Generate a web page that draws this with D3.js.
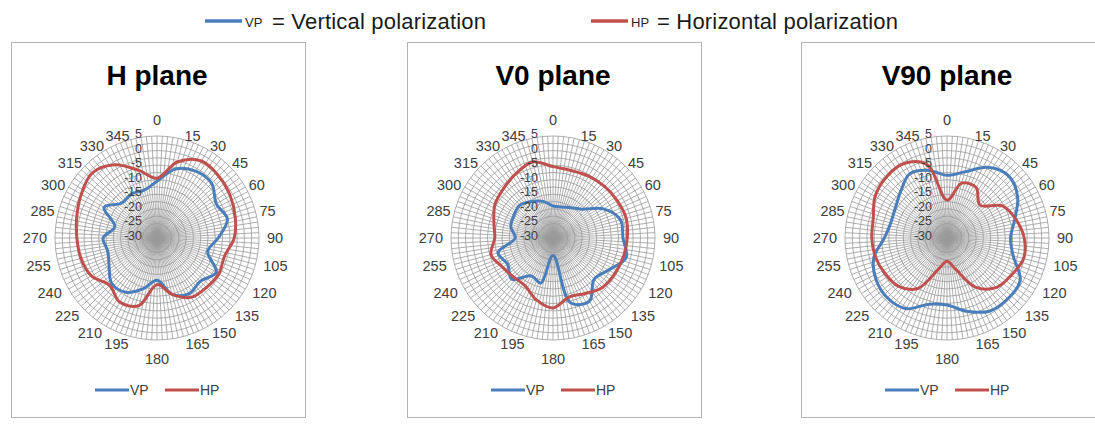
<!DOCTYPE html>
<html><head><meta charset="utf-8">
<script src="https://cdn.jsdelivr.net/npm/d3@7"></script>
<style>body{margin:0;background:#fff}svg{display:block}</style>
</head><body>
<svg id="c" width="1095" height="425"></svg>
<script>
// ---------- data ----------
const angles = [0,15,30,45,60,75,90,105,120,135,150,165,180,195,210,225,240,255,270,285,300,315,330,345];
const angleLabels = ["0","15","30","45","60","75","90","105","120","135","150","165","180","195","210","225","240","255","270","285","300","315","330","345"];
const radialTicks = [5,0,-5,-10,-15,-20,-25,-30];
const radialLabels = ["5","0","-5","-10","-15","-20","-25","-30"];
const planeTitles = ["H plane","V0 plane","V90 plane"];
const seriesNames = ["VP","HP"];
const legendTexts = ["= Vertical polarization","= Horizontal polarization"];

const hPlaneVP  = [-10.5,-5.5,-3.5,-3.5,-6.5,-5,-9,-12,-6.5,-9,-8,-10,-15.5,-12,-8.5,-8,-11,-12.5,-11.5,-15,-9,-13,-12.5,-13];
const hPlaneHP  = [-9.5,-3,0.5,0,-1,-2.2,-3.5,-6,-5.5,-6,-6.5,-10,-14,-6,-4.5,-7,-4,-3,-2.5,-1.5,0,1.5,-1,-6];
const v0PlaneVP = [-19,-19,-18,-16,-10,-6,-6,-4,-8,-10,-5,-7,-24,-14,-15,-10,-12,-10.5,-17,-15,-14.5,-14,-15.5,-17];
const v0PlaneHP = [-5.5,-6,-5.5,-5,-4.5,-4,-4.5,-5,-5.5,-6,-8,-9,-6,-8,-11,-11,-10,-8,-10,-9,-7,-6,-4.5,-3];
const v90PlaneVP = [-8.5,-6.5,-2,0,-2,-6,-8.2,-6.5,-1,-0.5,-1,-4,-7,-6.5,-2,-1,-1.8,-4,-8.5,-10,-9.5,-7.5,-4.5,-6];
const v90PlaneHP = [-17,-10.5,-10,-14,-8,-5.5,-3.5,-2.8,-4.5,-6,-10.5,-19,-22,-19,-10,-6.5,-5.5,-4.6,-4.2,-3.8,-1.5,-0.5,-0.5,-4];

const planeSeries = [[hPlaneVP,hPlaneHP],[v0PlaneVP,v0PlaneHP],[v90PlaneVP,v90PlaneHP]];

// ---------- layout / style ----------
const colors = ["#4a7ebb","#c0504d"];
const centersX = [157,553,947], cy = 238, R = 102;
const svg = d3.select("#c");
const rScale = d3.scaleLinear().domain([-30,5]).range([0,R]);
const aScale = d3.scaleLinear().domain([0,360]).range([0,2*Math.PI]);
const ringValues = d3.range(-27.5, 5.01, 2.5);
const spokeAngles = d3.range(0,360,3);
const font = "'Liberation Sans', Arial, sans-serif";

// top legend
const topLeg = svg.append("g");
[[205,245,272,214],[591,631,657,241]].forEach((p,i)=>{
  topLeg.append("line").attr("x1",p[0]).attr("x2",p[0]+37).attr("y1",21).attr("y2",21)
    .attr("stroke",colors[i]).attr("stroke-width",3.5);
  topLeg.append("text").attr("x",p[1]).attr("y",22).attr("dominant-baseline","central")
    .attr("font-family",font).attr("font-size",13).attr("fill","#262626").text(seriesNames[i]);
  topLeg.append("text").attr("x",p[2]).attr("y",21).attr("dominant-baseline","central")
    .attr("font-family",font).attr("font-size",22).attr("fill","#1a1a1a")
    .attr("textLength",p[3]).attr("lengthAdjust","spacing").text(legendTexts[i]);
});

planeSeries.forEach((series,i)=>{
  const cx = centersX[i];
  svg.append("rect").attr("x",cx-146+0.5).attr("y",42.5).attr("width",294).attr("height",375)
    .attr("fill","#fff").attr("stroke","#b4b4b4").attr("stroke-width",1);
  svg.append("text").attr("x",cx).attr("y",85).attr("text-anchor","middle")
    .attr("font-family",font).attr("font-weight","bold").attr("font-size",28).attr("fill","#000")
    .text(planeTitles[i]);

  const g = svg.append("g").attr("transform",`translate(${cx},${cy})`);
  g.selectAll("line.spoke").data(spokeAngles).join("line").attr("class","spoke")
    .attr("x1",0).attr("y1",0)
    .attr("x2",d=>R*Math.sin(aScale(d))).attr("y2",d=>-R*Math.cos(aScale(d)))
    .attr("stroke","#9a9a9a").attr("stroke-width",0.8);
  g.selectAll("circle.ring").data(ringValues).join("circle").attr("class","ring")
    .attr("r",d=>rScale(d)).attr("fill","none").attr("stroke","#9a9a9a").attr("stroke-width",0.8);

  const line = d3.lineRadial()
    .angle((d,j)=>aScale(angles[j]))
    .radius(d=>rScale(d))
    .curve(d3.curveCatmullRomClosed.alpha(0.5));
  series.forEach((vals,k)=>{
    g.append("path").attr("d",line(vals)).attr("fill","none")
      .attr("stroke",colors[k]).attr("stroke-width",3).attr("stroke-linejoin","round");
  });

  // radial labels
  g.selectAll("text.rl").data(radialTicks).join("text").attr("class","rl")
    .attr("x",-15).attr("y",d=>-rScale(d)-2).attr("text-anchor","end").attr("dominant-baseline","central")
    .attr("font-family",font).attr("font-size",12.5).attr("fill","#404040")
    .text((d,j)=>radialLabels[j]);

  // angle labels
  g.selectAll("text.al").data(angles).join("text").attr("class","al")
    .each(function(d,j){
      const a = aScale(d), s = Math.sin(a), c = Math.cos(a);
      const rr = c > 0.01 ? 106 : 110;
      let x = rr*s, y = -rr*c, anchor;
      if (Math.abs(s) < 0.01) { anchor = "middle"; y += (c>0 ? -12 : 11); }
      else anchor = s > 0 ? "start" : "end";
      d3.select(this).attr("x",x).attr("y",y).attr("text-anchor",anchor);
    })
    .attr("dominant-baseline","central")
    .attr("font-family",font).attr("font-size",14.5).attr("fill","#404040")
    .text((d,j)=>angleLabels[j]);

  // in-panel legend
  const lg = svg.append("g").attr("transform",`translate(${cx},390)`);
  [[-62,-27],[8,43]].forEach((p,k)=>{
    lg.append("line").attr("x1",p[0]).attr("x2",p[1]-1).attr("y1",0).attr("y2",0)
      .attr("stroke",colors[k]).attr("stroke-width",3);
    lg.append("text").attr("x",p[1]).attr("y",0).attr("dominant-baseline","central")
      .attr("font-family",font).attr("font-size",14).attr("fill","#404040").text(seriesNames[k]);
  });
});
</script>
</body></html>
